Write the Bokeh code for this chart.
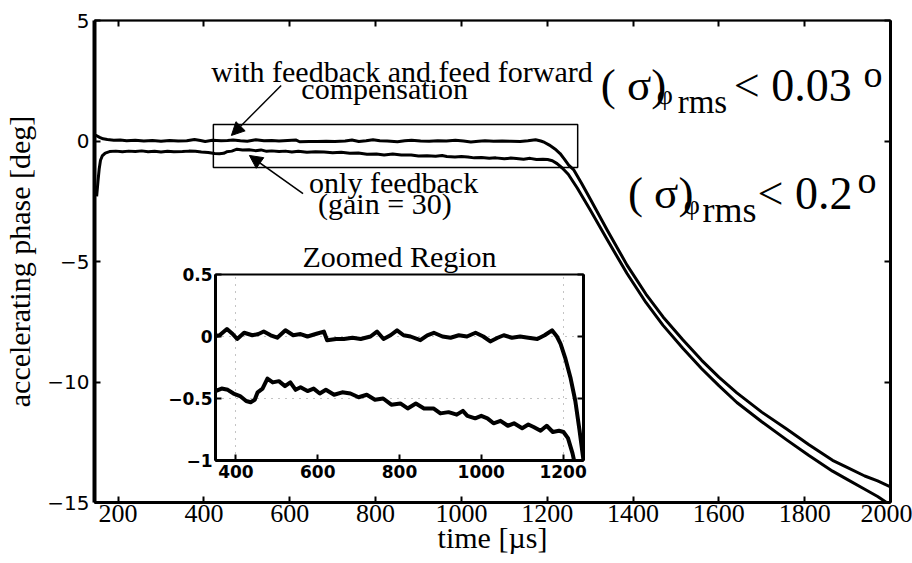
from bokeh.plotting import figure
from bokeh.models import (Range1d, LinearAxis, FixedTicker, Label, Arrow, Grid,
                          NormalHead, ColumnDataSource, CustomLabelingPolicy)
from bokeh.layouts import column, row
from bokeh.embed import file_html
from bokeh.resources import INLINE

# ---------------- data ----------------
# with feedback and feed forward compensation
t_ffw = [145, 150, 157, 165, 175, 190, 205, 220, 240, 260,
         280, 300, 320, 340, 360, 378, 392, 403, 420, 440,
         455, 468, 485, 501, 521, 540, 558, 575, 595, 615,
         623, 645, 664, 685, 705, 729, 745, 761, 778, 794,
         810, 827, 851, 868, 884, 905, 925, 945, 965, 986,
         1005, 1022, 1040, 1055, 1075, 1095, 1115, 1137, 1155, 1173,
         1185, 1194, 1205, 1218, 1230, 1240, 1250, 1262, 1280, 1300,
         1340, 1386, 1430, 1470, 1516, 1560, 1600, 1642, 1700, 1758,
         1810, 1865, 1900, 1940, 1970, 2000]
phase_ffw = [0.25, 0.22, 0.15, 0.09, 0.06, 0.03, 0.04, 0.01, 0.03, 0.0,
             0.02, -0.01, 0.02, 0.0, 0.01, 0.06, 0.02, -0.02, 0.03, 0.01,
             0.02, 0.04, 0.01, -0.01, 0.05, 0.01, 0.02, 0.0, 0.02, 0.04,
             -0.03, -0.02, -0.02, -0.01, -0.02, 0.0, 0.04, -0.02, 0.01, 0.05,
             0.01, 0.0, -0.03, 0.01, 0.03, 0.0, -0.01, 0.01, 0.0, 0.03,
             0.0, -0.04, -0.01, 0.01, -0.01, 0.0, -0.01, -0.02, 0.01, 0.05,
             0.0, -0.06, -0.17, -0.33, -0.52, -0.75, -1.0, -1.2, -1.75, -2.4,
             -3.7, -5.15, -6.35, -7.3, -8.25, -9.1, -9.8, -10.45, -11.25, -11.95,
             -12.6, -13.25, -13.55, -13.9, -14.1, -14.35]

# only feedback (gain = 30)
t_fb = [150, 153, 156, 159, 163, 170, 180, 195, 210, 225,
        240, 255, 270, 285, 300, 315, 330, 350, 365, 380,
        394, 410, 425, 436, 446, 453, 465, 477, 490, 505,
        520, 533, 546, 558, 575, 590, 605, 620, 640, 660,
        680, 700, 720, 740, 760, 780, 802, 820, 840, 860,
        883, 900, 920, 940, 955, 966, 985, 1000, 1015, 1030,
        1047, 1065, 1080, 1100, 1115, 1128, 1145, 1160, 1175, 1190,
        1201, 1212, 1223, 1235, 1249, 1270, 1300, 1340, 1386, 1430,
        1470, 1516, 1560, 1600, 1642, 1700, 1758, 1810, 1865, 1900,
        1940, 1970, 1995]
phase_fb = [-2.3, -1.7, -1.15, -0.8, -0.62, -0.5, -0.44, -0.42, -0.45, -0.42,
            -0.44, -0.41, -0.45, -0.43, -0.46, -0.43, -0.45, -0.44, -0.42, -0.43,
            -0.46, -0.48, -0.52, -0.53, -0.51, -0.45, -0.42, -0.34, -0.37, -0.36,
            -0.40, -0.37, -0.43, -0.41, -0.44, -0.42, -0.46, -0.43, -0.47, -0.45,
            -0.46, -0.49, -0.47, -0.51, -0.50, -0.55, -0.54, -0.58, -0.54, -0.58,
            -0.58, -0.62, -0.61, -0.63, -0.60, -0.64, -0.66, -0.64, -0.66, -0.70,
            -0.68, -0.72, -0.70, -0.74, -0.71, -0.73, -0.76, -0.72, -0.77, -0.76,
            -0.77, -0.82, -0.94, -1.12, -1.38, -1.95, -2.85, -4.1, -5.5, -6.7,
            -7.65, -8.6, -9.45, -10.15, -10.85, -11.65, -12.4, -13.05, -13.7, -14.05,
            -14.45, -14.75, -15.05]

x_ticks = [200, 400, 600, 800, 1000, 1200, 1400, 1600, 1800, 2000]
y_ticks = [-15, -10, -5, 0, 5]
y_tick_labels = ["\u221215", "\u221210", "\u22125", "0", "5"]

inset_x_ticks = [400, 600, 800, 1000, 1200]
inset_y_ticks = [-1, -0.5, 0, 0.5]
inset_y_tick_labels = ["\u22121", "\u22120.5", "0", "0.5"]

zoom_box_x = [422, 1271]
zoom_box_y = [-1.10, 0.68]

SERIF = "Liberation Serif"
SANS = "DejaVu Sans"

src_ffw = ColumnDataSource(dict(t=t_ffw, phase=phase_ffw))
src_fb = ColumnDataSource(dict(t=t_fb, phase=phase_fb))

NO_LABELS = CustomLabelingPolicy(code="return new indices.constructor(indices.size)")

# ---------------- main figure ----------------
p = figure(width=912, height=563, x_range=Range1d(145, 2000), y_range=Range1d(-15, 5),
           x_axis_type=None, y_axis_type=None, output_backend="svg",
           toolbar_location=None, min_border_left=93, min_border_right=22,
           min_border_top=20, min_border_bottom=61)
p.outline_line_color = "black"
p.outline_line_width = 1.5
p.background_fill_color = "white"
p.border_fill_color = "white"


def style_axis(ax, width, show_labels, font, size):
    ax.axis_line_width = width
    ax.axis_line_color = "black"
    ax.major_tick_in = 6
    ax.major_tick_out = 0
    ax.major_tick_line_width = 2
    ax.major_tick_line_color = "black"
    ax.minor_tick_line_color = None
    if show_labels:
        ax.major_label_text_font = font
        ax.major_label_text_font_size = size
        ax.major_label_text_color = "black"
    else:
        ax.major_label_text_font_size = "0px"
        ax.major_label_standoff = 0
        ax.axis_label_standoff = 0
        ax.major_label_policy = NO_LABELS


xb = LinearAxis(ticker=FixedTicker(ticks=x_ticks), axis_label="time [\u00b5s]")
style_axis(xb, 3, True, SERIF, "26px")
xb.major_label_standoff = 2
xb.axis_label_text_font = SERIF
xb.axis_label_text_font_size = "30px"
xb.axis_label_text_font_style = "normal"
xb.axis_label_text_color = "black"
xb.axis_label_standoff = -4
p.add_layout(xb, "below")

yl = LinearAxis(ticker=FixedTicker(ticks=y_ticks), axis_label="accelerating phase [deg]")
style_axis(yl, 4, True, SANS, "20px")
yl.major_label_overrides = {float(k): v for k, v in zip(y_ticks, y_tick_labels)}
yl.major_label_standoff = 5
yl.axis_label_text_font = SERIF
yl.axis_label_text_font_size = "30px"
yl.axis_label_text_font_style = "normal"
yl.axis_label_text_color = "black"
yl.axis_label_standoff = 8
p.add_layout(yl, "left")

xa = LinearAxis(ticker=FixedTicker(ticks=x_ticks))
style_axis(xa, 2, False, SERIF, "0px")
p.add_layout(xa, "above")

yr = LinearAxis(ticker=FixedTicker(ticks=y_ticks))
style_axis(yr, 3, False, SERIF, "0px")
p.add_layout(yr, "right")

p.line("t", "phase", source=src_ffw, line_color="black", line_width=3, line_join="round")
p.line("t", "phase", source=src_fb, line_color="black", line_width=3, line_join="round")

# zoom box
p.quad(left=[zoom_box_x[0]], right=[zoom_box_x[1]], bottom=[zoom_box_y[0]], top=[zoom_box_y[1]],
       fill_color=None, line_color="black", line_width=1.5)


def lab(text, x, y, size, font=SERIF):
    p.add_layout(Label(x=x, y=y, text=text, text_font=font, text_font_size=f"{size}px",
                       text_baseline="alphabetic", text_align="left", text_color="black"))


lab("with feedback and feed forward", 417, 2.90, 30)
lab("compensation", 627, 2.18, 30)
lab("only feedback", 645, -1.74, 30)
lab("(gain = 30)", 666, -2.61, 30)

# sigma annotation 1
lab("( \u03c3)", 1325, 2.31, 45)
lab("\u03c6", 1455, 1.93, 28)
lab("rms", 1504, 1.63, 33)
lab("< 0.03", 1635, 2.31, 46)
lab("o", 1937, 2.78, 38)

# sigma annotation 2
lab("( \u03c3)", 1388, -2.17, 45)
lab("\u03c6", 1518, -2.63, 28)
lab("rms", 1562, -2.88, 36)
lab("< 0.2", 1690, -2.17, 46)
lab("o", 1923, -1.62, 38)

p.add_layout(Arrow(end=NormalHead(size=13, fill_color="black", line_color="black"),
                   x_start=580, y_start=2.30, x_end=464, y_end=0.23,
                   line_width=1.5, line_color="black"))
p.add_layout(Arrow(end=NormalHead(size=13, fill_color="black", line_color="black"),
                   x_start=631, y_start=-2.18, x_end=506, y_end=-0.60,
                   line_width=1.5, line_color="black"))

# ---------------- inset ----------------
q = figure(width=445, height=264, x_range=Range1d(350, 1250), y_range=Range1d(-1, 0.5),
           x_axis_type=None, y_axis_type=None, output_backend="svg",
           toolbar_location=None, min_border_left=65, min_border_right=12,
           min_border_top=46, min_border_bottom=32, title="Zoomed Region")
q.title.text_font = SERIF
q.title.text_font_size = "30px"
q.title.text_font_style = "normal"
q.title.text_color = "black"
q.title.align = "center"
q.title.standoff = 4
q.background_fill_color = None
q.border_fill_color = None
q.outline_line_color = "black"
q.outline_line_width = 2

qxb = LinearAxis(ticker=FixedTicker(ticks=inset_x_ticks))
style_axis(qxb, 3, True, SANS, "17px")
qxb.major_label_text_font_style = "bold"
qxb.major_label_standoff = 4
q.add_layout(qxb, "below")

qyl = LinearAxis(ticker=FixedTicker(ticks=inset_y_ticks))
style_axis(qyl, 3, True, SANS, "17px")
qyl.major_label_text_font_style = "bold"
qyl.major_label_overrides = {float(k): v for k, v in zip(inset_y_ticks, inset_y_tick_labels)}
qyl.major_label_standoff = 3
q.add_layout(qyl, "left")

qyr = LinearAxis(ticker=FixedTicker(ticks=inset_y_ticks))
style_axis(qyr, 3, False, SANS, "0px")
q.add_layout(qyr, "right")

q.add_layout(Grid(dimension=0, ticker=FixedTicker(ticks=[400, 1200]),
                  grid_line_color="#555555", grid_line_dash="1 6", grid_line_alpha=0.7))
q.add_layout(Grid(dimension=1, ticker=FixedTicker(ticks=[-0.5, 0]),
                  grid_line_color="#555555", grid_line_dash="1 6", grid_line_alpha=0.7))

q.line("t", "phase", source=src_ffw, line_color="black", line_width=4, line_join="round")
q.line("t", "phase", source=src_fb, line_color="black", line_width=4, line_join="round")

inset_box = row(q)
inset_box.margin = (-335, 0, 0, 150)

layout = column(p, inset_box, spacing=0)
open("out.html", "w").write(file_html(layout, INLINE))
